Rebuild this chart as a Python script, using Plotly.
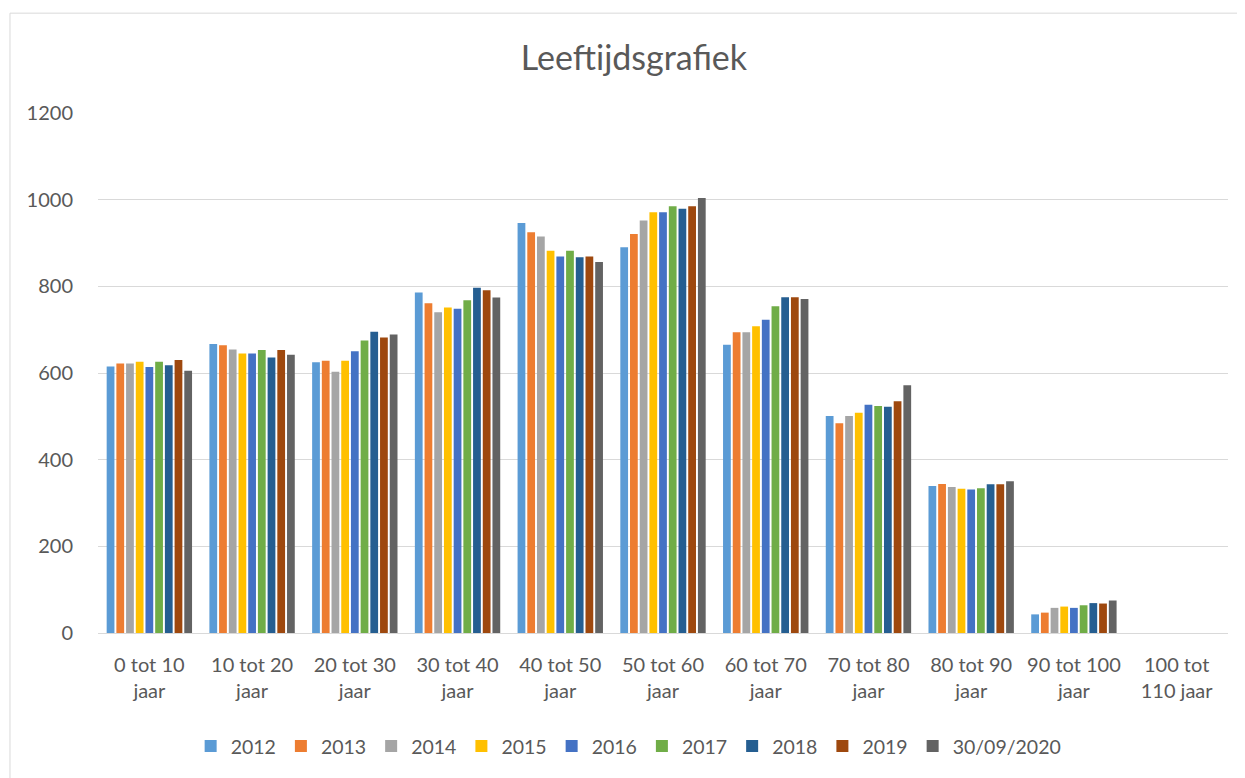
import plotly.graph_objects as go

categories = ["0 tot 10<br>jaar", "10 tot 20<br>jaar", "20 tot 30<br>jaar", "30 tot 40<br>jaar",
              "40 tot 50<br>jaar", "50 tot 60<br>jaar", "60 tot 70<br>jaar", "70 tot 80<br>jaar",
              "80 tot 90<br>jaar", "90 tot 100<br>jaar", "100 tot<br>110 jaar"]

series_names = ["2012", "2013", "2014", "2015", "2016", "2017", "2018", "2019", "30/09/2020"]

v2012 = [615, 667, 625, 786, 946, 890, 665, 501, 339, 43, 0]
v2013 = [622, 664, 628, 761, 925, 921, 694, 484, 344, 47, 0]
v2014 = [622, 654, 603, 740, 915, 952, 694, 501, 337, 58, 0]
v2015 = [626, 645, 628, 751, 882, 971, 708, 508, 333, 61, 0]
v2016 = [614, 645, 650, 748, 869, 971, 723, 527, 331, 58, 0]
v2017 = [626, 653, 675, 768, 882, 985, 754, 524, 334, 64, 0]
v2018 = [618, 636, 695, 797, 867, 979, 775, 522, 343, 69, 0]
v2019 = [630, 653, 682, 791, 869, 985, 775, 535, 343, 68, 0]
v2020 = [605, 642, 689, 774, 856, 1004, 771, 572, 350, 75, 0]

colors = ["#5B9BD5", "#ED7D31", "#A5A5A5", "#FFC000", "#4472C4", "#70AD47", "#255E91", "#9E480E", "#636363"]

all_values = [v2012, v2013, v2014, v2015, v2016, v2017, v2018, v2019, v2020]

font_family = "Lato, 'Open Sans', sans-serif"
text_color = "#595959"

fig = go.Figure()
for name, vals, col in zip(series_names, all_values, colors):
    fig.add_trace(go.Bar(x=categories, y=vals, name=name, marker=dict(color=col, line=dict(width=0))))

fig.update_layout(
    width=1237, height=770,
    paper_bgcolor="white", plot_bgcolor="white",
    margin=dict(l=90, r=17, t=105, b=145),
    barmode="group", bargap=0.15, bargroupgap=0.2,
    title=dict(text="Leeftijdsgrafiek", x=0.506, xanchor="center", y=0.935, yanchor="middle",
               font=dict(family=font_family, size=34, color=text_color)),
    font=dict(family=font_family, size=20, color=text_color),
    legend=dict(orientation="h", x=0.4696, xanchor="center", y=-0.218, yanchor="middle",
                font=dict(family=font_family, size=19.5, color=text_color),
                itemwidth=30, traceorder="normal"),
    shapes=[dict(type="rect", xref="paper", yref="paper", x0=-0.0779, x1=1.0135, y0=-0.3, y1=1.192,
                 line=dict(color="#D9D9D9", width=1), fillcolor="rgba(0,0,0,0)", layer="below")],
)
fig.update_yaxes(range=[0, 1200], dtick=200, showgrid=True, gridcolor="#D9D9D9", gridwidth=1,
                 zeroline=False, showline=False, ticks="", tickfont=dict(size=20, color=text_color),
                 ticklabelstandoff=24)
fig.update_xaxes(showline=True, linecolor="#D9D9D9", linewidth=1, ticks="",
                 tickfont=dict(size=20, color=text_color), ticklabelstandoff=14)

fig.write_html("out.html")
